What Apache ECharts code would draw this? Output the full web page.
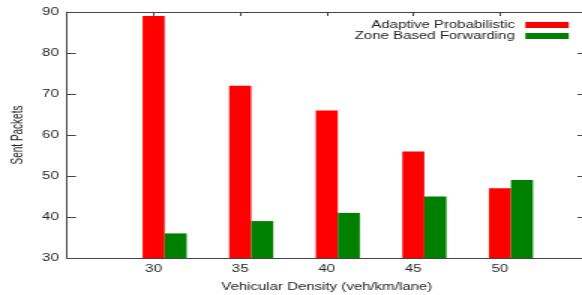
<!DOCTYPE html>
<html>
<head>
<meta charset="utf-8">
<script src="https://cdn.jsdelivr.net/npm/echarts@6/dist/echarts.min.js"></script>
<style>
  html, body { margin: 0; padding: 0; background: #fff; overflow: hidden; }
  /* the reference is a gnuplot figure stretched sideways, so draw narrow and stretch */
  #chart { width: 388px; height: 295px; transform: scaleX(1.5); transform-origin: 0 0; }
</style>
</head>
<body>
<div id="chart"></div>
<script>
var xTicks = ['25', '30', '35', '40', '45', '50', '55'];
var adaptive = ['-', 89, 72, 66, 56, 47, '-'];
var zoneBased = ['-', 36, 39, 41, 45, 49, '-'];
var yTicks = { min: 30, max: 90, step: 10 };

var myChart = echarts.init(document.getElementById('chart'));
var font = 'Liberation Sans, Arial, sans-serif';
var lineColor = '#444';

var option = {
    animation: false,
    textStyle: { fontFamily: font },
    grid: { left: 44.7, right: -3, top: 12, bottom: 37, outerBoundsMode: 'none', containLabel: false },
    legend: {
        orient: 'vertical',
        right: 3.8,
        top: 14.5,
        align: 'right',
        itemWidth: 29,
        itemHeight: 6,
        itemGap: 0,
        icon: 'rect',
        data: ['Adaptive Probabilistic', 'Zone Based Forwarding'],
        textStyle: { fontSize: 10, lineHeight: 11, color: '#222', fontFamily: font, padding: [0, 2, 0, 0] }
    },
    xAxis: [
        {
            type: 'category',
            data: xTicks,
            boundaryGap: false,
            name: 'Vehicular Density (veh/km/lane)',
            nameLocation: 'middle',
            nameGap: 24,
            nameTextStyle: { fontSize: 10, color: '#222' },
            axisLine: { lineStyle: { color: lineColor, width: 1 } },
            axisTick: { inside: true, length: 4, lineStyle: { color: lineColor } },
            axisLabel: {
                fontSize: 10,
                color: '#222',
                margin: 6,
                formatter: function (v, i) {
                    return (i === 0 || i === xTicks.length - 1) ? '' : v;
                }
            },
            splitLine: { show: false }
        },
        {
            type: 'category',
            data: xTicks,
            boundaryGap: false,
            position: 'top',
            axisLine: { lineStyle: { color: lineColor, width: 1 } },
            axisTick: { inside: true, length: 4, lineStyle: { color: lineColor } },
            axisLabel: { show: false },
            splitLine: { show: false }
        }
    ],
    yAxis: [
        {
            type: 'value',
            min: yTicks.min,
            max: yTicks.max,
            interval: yTicks.step,
            name: 'Sent Packets',
            nameLocation: 'middle',
            nameGap: 22,
            nameTextStyle: { fontSize: 10, color: '#222' },
            axisLine: { show: true, lineStyle: { color: lineColor, width: 1 } },
            axisTick: { show: true, inside: true, length: 6, lineStyle: { color: lineColor } },
            axisLabel: { fontSize: 10, color: '#222', margin: 5.5 },
            splitLine: { show: false }
        },
        {
            type: 'value',
            min: yTicks.min,
            max: yTicks.max,
            interval: yTicks.step,
            position: 'right',
            axisLine: { show: true, lineStyle: { color: lineColor, width: 1 } },
            axisTick: { show: true, inside: true, length: 6, lineStyle: { color: lineColor } },
            axisLabel: { show: false },
            splitLine: { show: false }
        }
    ],
    series: [
        {
            // empty slot on the left so the red bar sits on the tick
            name: 'pad',
            type: 'bar',
            barWidth: 14.7,
            barGap: '0%',
            silent: true,
            data: xTicks.map(function () { return '-'; })
        },
        {
            name: 'Adaptive Probabilistic',
            type: 'bar',
            barWidth: 14.7,
            barGap: '0%',
            itemStyle: { color: '#ff0000' },
            data: adaptive
        },
        {
            name: 'Zone Based Forwarding',
            type: 'bar',
            barWidth: 14.7,
            barGap: '0%',
            itemStyle: { color: '#008000' },
            data: zoneBased
        }
    ]
};

myChart.setOption(option);
</script>
</body>
</html>
